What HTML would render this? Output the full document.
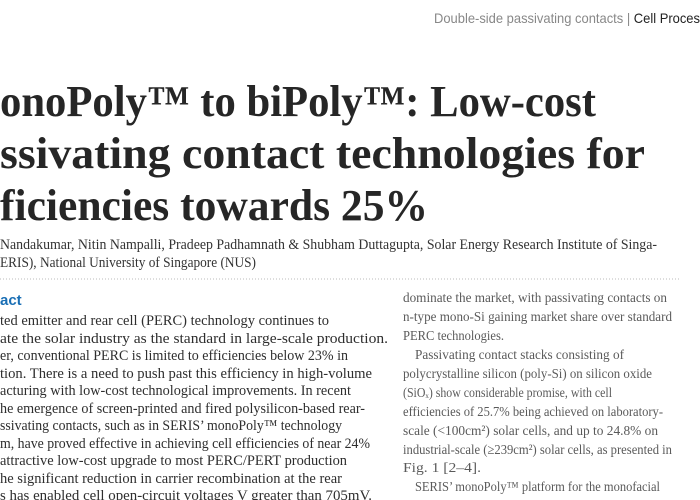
<!DOCTYPE html>
<html><head><meta charset="utf-8"><style>
html,body{margin:0;padding:0;background:#fff;width:700px;height:500px;overflow:hidden}
svg{display:block}
.t{font-family:"Liberation Serif",serif;font-weight:bold;font-size:44px;fill:#262626}
.a{font-family:"Liberation Serif",serif;font-size:15px;fill:#333}
.b{font-family:"Liberation Serif",serif;font-size:15px;fill:#2e2e2e}
.r{font-family:"Liberation Serif",serif;font-size:14px;fill:#5a5a5a}
</style></head><body>
<svg width="700" height="500">
<text x="434" y="23" font-family="Liberation Sans Narrow, Liberation Sans, sans-serif" font-size="14" fill="#888" textLength="266" lengthAdjust="spacingAndGlyphs">Double-side passivating contacts | <tspan fill="#222">Cell Proces</tspan></text>
<g>
<text class="t" x="0" y="116" textLength="596" lengthAdjust="spacingAndGlyphs">onoPoly™ to biPoly™: Low-cost</text>
<text class="t" x="0" y="168" textLength="645" lengthAdjust="spacingAndGlyphs">ssivating contact technologies for</text>
<text class="t" x="0" y="220" textLength="428" lengthAdjust="spacingAndGlyphs">ficiencies towards 25%</text>
</g>
<g>
<text class="a" x="0" y="249" textLength="657" lengthAdjust="spacingAndGlyphs">Nandakumar, Nitin Nampalli, Pradeep Padhamnath &amp; Shubham Duttagupta, Solar Energy Research Institute of Singa-</text>
<text class="a" x="0" y="267" textLength="256" lengthAdjust="spacingAndGlyphs">ERIS), National University of Singapore (NUS)</text>
</g>
<line x1="0" y1="279" x2="680" y2="279" stroke="#bbb" stroke-dasharray="1,2"/>
<text x="0" y="305" font-family="Liberation Sans, sans-serif" font-weight="bold" font-size="15" fill="#1a6fb5">act</text>
<g>
<text class="b" x="0" y="325" textLength="329" lengthAdjust="spacingAndGlyphs">ted emitter and rear cell (PERC) technology continues to</text>
<text class="b" x="0" y="343" textLength="388" lengthAdjust="spacingAndGlyphs">ate the solar industry as the standard in large-scale production.</text>
<text class="b" x="0" y="360" textLength="348" lengthAdjust="spacingAndGlyphs">er, conventional PERC is limited to efficiencies below 23% in</text>
<text class="b" x="0" y="378" textLength="372" lengthAdjust="spacingAndGlyphs">tion. There is a need to push past this efficiency in high-volume</text>
<text class="b" x="0" y="395" textLength="351" lengthAdjust="spacingAndGlyphs">acturing with low-cost technological improvements. In recent</text>
<text class="b" x="0" y="413" textLength="365" lengthAdjust="spacingAndGlyphs">he emergence of screen-printed and fired polysilicon-based rear-</text>
<text class="b" x="0" y="430" textLength="342" lengthAdjust="spacingAndGlyphs">ssivating contacts, such as in SERIS’ monoPoly™ technology</text>
<text class="b" x="0" y="448" textLength="370" lengthAdjust="spacingAndGlyphs">m, have proved effective in achieving cell efficiencies of near 24%</text>
<text class="b" x="0" y="465" textLength="347" lengthAdjust="spacingAndGlyphs"> attractive low-cost upgrade to most PERC/PERT production</text>
<text class="b" x="0" y="483" textLength="342" lengthAdjust="spacingAndGlyphs">he significant reduction in carrier recombination at the rear</text>
<text class="b" x="0" y="500" textLength="372" lengthAdjust="spacingAndGlyphs">s has enabled cell open-circuit voltages V   greater than 705mV.</text>
</g>
<g>
<text class="r" x="403" y="302" textLength="264" lengthAdjust="spacingAndGlyphs">dominate the market, with passivating contacts on</text>
<text class="r" x="403" y="321" textLength="269" lengthAdjust="spacingAndGlyphs">n-type mono-Si gaining market share over standard</text>
<text class="r" x="403" y="340" textLength="101" lengthAdjust="spacingAndGlyphs">PERC technologies.</text>
<text class="r" x="415" y="359" textLength="209" lengthAdjust="spacingAndGlyphs">Passivating contact stacks consisting of</text>
<text class="r" x="403" y="378" textLength="249" lengthAdjust="spacingAndGlyphs">polycrystalline silicon (poly-Si) on silicon oxide</text>
<text class="r" x="403" y="397" textLength="209" lengthAdjust="spacingAndGlyphs">(SiOₓ) show considerable promise, with cell</text>
<text class="r" x="403" y="416" textLength="260" lengthAdjust="spacingAndGlyphs">efficiencies of 25.7% being achieved on laboratory-</text>
<text class="r" x="403" y="435" textLength="255" lengthAdjust="spacingAndGlyphs">scale (&lt;100cm²) solar cells, and up to 24.8% on</text>
<text class="r" x="403" y="454" textLength="269" lengthAdjust="spacingAndGlyphs">industrial-scale (≥239cm²) solar cells, as presented in</text>
<text class="r" x="403" y="472" textLength="78" lengthAdjust="spacingAndGlyphs">Fig. 1 [2–4].</text>
<text class="r" x="415" y="491" textLength="245" lengthAdjust="spacingAndGlyphs">SERIS’ monoPoly™ platform for the monofacial</text>
<text class="r" x="403" y="510" textLength="269" lengthAdjust="spacingAndGlyphs">application of poly-Si-based passivating contact</text>
</g>
</svg>
</body></html>
